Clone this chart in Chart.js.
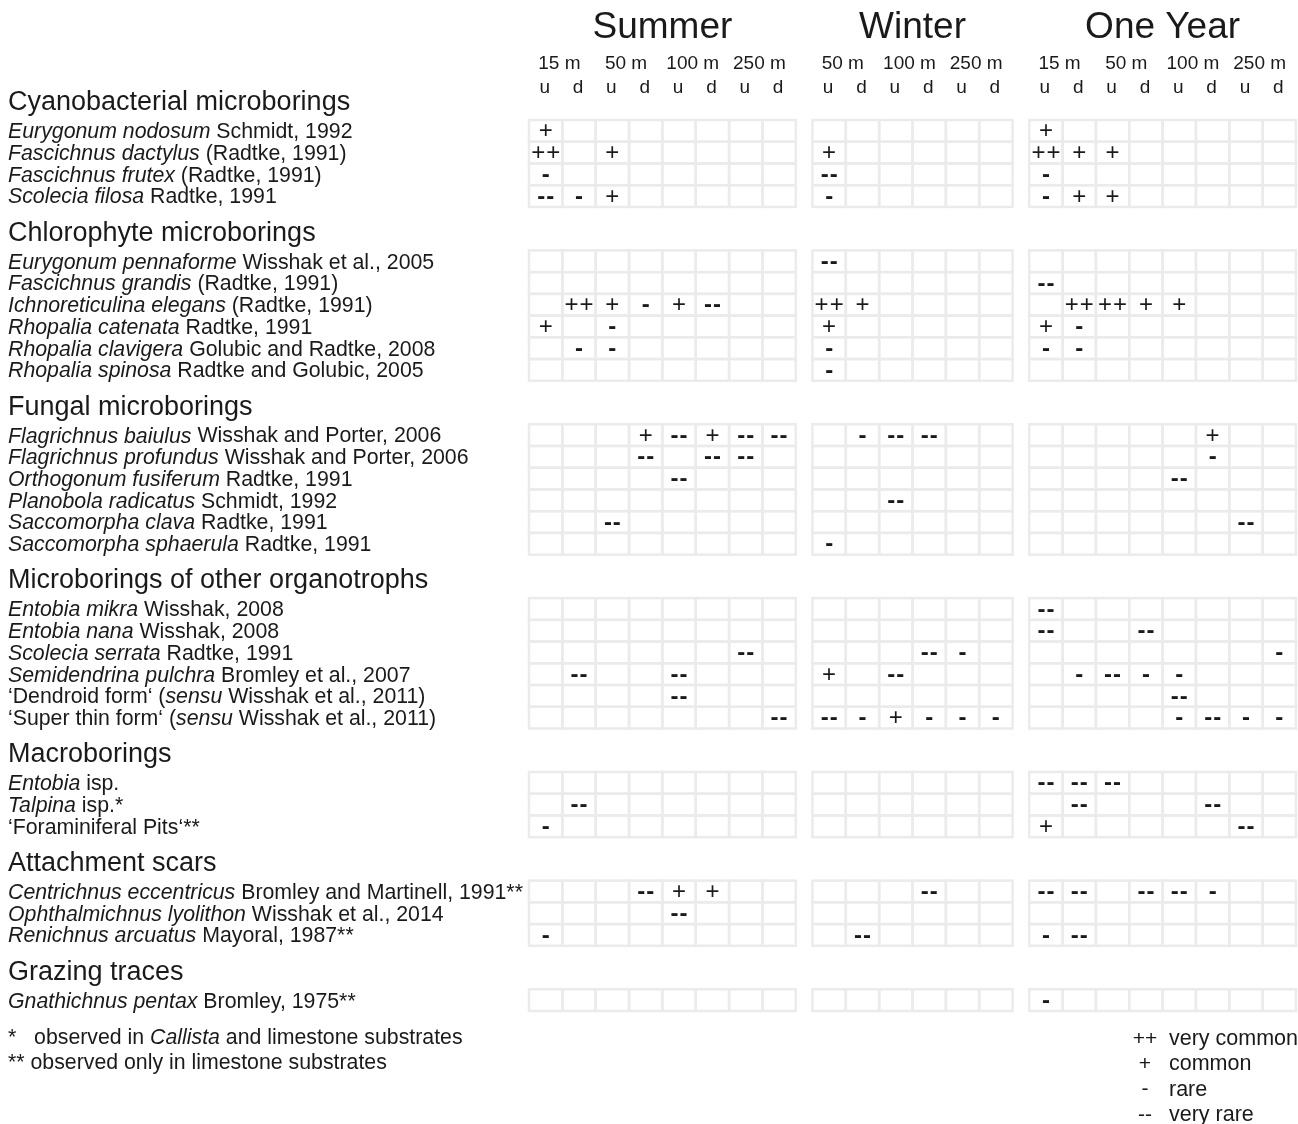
<!DOCTYPE html>
<html>
<head>
<meta charset="utf-8">
<script src="https://cdn.jsdelivr.net/npm/chart.js@4/dist/chart.umd.min.js"></script>
<style>
html,body{margin:0;padding:0;background:#fff;}
#wrap{width:1298px;height:1124px;}
</style>
</head>
<body>
<div id="wrap"><canvas id="c" width="1298" height="1124"></canvas></div>
<script>
// ---------- DATA ----------
const periods = ["Summer", "Winter", "One Year"];
const summerDepths = ["15 m", "50 m", "100 m", "250 m"];
const winterDepths = ["50 m", "100 m", "250 m"];
const yearDepths = ["15 m", "50 m", "100 m", "250 m"];
const sides = ["u", "d"];

const groups = [
  "Cyanobacterial microborings",
  "Chlorophyte microborings",
  "Fungal microborings",
  "Microborings of other organotrophs",
  "Macroborings",
  "Attachment scars",
  "Grazing traces"
];
const groupSizes = [4, 6, 6, 6, 3, 3, 1];

// _text_ = italic
const species = [
  "_Eurygonum nodosum_ Schmidt, 1992",
  "_Fascichnus dactylus_ (Radtke, 1991)",
  "_Fascichnus frutex_ (Radtke, 1991)",
  "_Scolecia filosa_ Radtke, 1991",
  "_Eurygonum pennaforme_ Wisshak et al., 2005",
  "_Fascichnus grandis_ (Radtke, 1991)",
  "_Ichnoreticulina elegans_ (Radtke, 1991)",
  "_Rhopalia catenata_ Radtke, 1991",
  "_Rhopalia clavigera_ Golubic and Radtke, 2008",
  "_Rhopalia spinosa_ Radtke and Golubic, 2005",
  "_Flagrichnus baiulus_ Wisshak and Porter, 2006",
  "_Flagrichnus profundus_ Wisshak and Porter, 2006",
  "_Orthogonum fusiferum_ Radtke, 1991",
  "_Planobola radicatus_ Schmidt, 1992",
  "_Saccomorpha clava_ Radtke, 1991",
  "_Saccomorpha sphaerula_ Radtke, 1991",
  "_Entobia mikra_ Wisshak, 2008",
  "_Entobia nana_ Wisshak, 2008",
  "_Scolecia serrata_ Radtke, 1991",
  "_Semidendrina pulchra_ Bromley et al., 2007",
  "\u2018Dendroid form\u2018 (_sensu_ Wisshak et al., 2011)",
  "\u2018Super thin form\u2018 (_sensu_ Wisshak et al., 2011)",
  "_Entobia_ isp.",
  "_Talpina_ isp.*",
  "\u2018Foraminiferal Pits\u2018**",
  "_Centrichnus eccentricus_ Bromley and Martinell, 1991**",
  "_Ophthalmichnus lyolithon_ Wisshak et al., 2014",
  "_Renichnus arcuatus_ Mayoral, 1987**",
  "_Gnathichnus pentax_ Bromley, 1975**"
];

// abundance codes: 2 = ++ very common, 1 = + common, -1 = - rare, -2 = -- very rare, 0 = absent
const summerData = [
  [1,0,0,0,0,0,0,0],
  [2,0,1,0,0,0,0,0],
  [-1,0,0,0,0,0,0,0],
  [-2,-1,1,0,0,0,0,0],
  [0,0,0,0,0,0,0,0],
  [0,0,0,0,0,0,0,0],
  [0,2,1,-1,1,-2,0,0],
  [1,0,-1,0,0,0,0,0],
  [0,-1,-1,0,0,0,0,0],
  [0,0,0,0,0,0,0,0],
  [0,0,0,1,-2,1,-2,-2],
  [0,0,0,-2,0,-2,-2,0],
  [0,0,0,0,-2,0,0,0],
  [0,0,0,0,0,0,0,0],
  [0,0,-2,0,0,0,0,0],
  [0,0,0,0,0,0,0,0],
  [0,0,0,0,0,0,0,0],
  [0,0,0,0,0,0,0,0],
  [0,0,0,0,0,0,-2,0],
  [0,-2,0,0,-2,0,0,0],
  [0,0,0,0,-2,0,0,0],
  [0,0,0,0,0,0,0,-2],
  [0,0,0,0,0,0,0,0],
  [0,-2,0,0,0,0,0,0],
  [-1,0,0,0,0,0,0,0],
  [0,0,0,-2,1,1,0,0],
  [0,0,0,0,-2,0,0,0],
  [-1,0,0,0,0,0,0,0],
  [0,0,0,0,0,0,0,0]
];
const winterData = [
  [0,0,0,0,0,0],
  [1,0,0,0,0,0],
  [-2,0,0,0,0,0],
  [-1,0,0,0,0,0],
  [-2,0,0,0,0,0],
  [0,0,0,0,0,0],
  [2,1,0,0,0,0],
  [1,0,0,0,0,0],
  [-1,0,0,0,0,0],
  [-1,0,0,0,0,0],
  [0,-1,-2,-2,0,0],
  [0,0,0,0,0,0],
  [0,0,0,0,0,0],
  [0,0,-2,0,0,0],
  [0,0,0,0,0,0],
  [-1,0,0,0,0,0],
  [0,0,0,0,0,0],
  [0,0,0,0,0,0],
  [0,0,0,-2,-1,0],
  [1,0,-2,0,0,0],
  [0,0,0,0,0,0],
  [-2,-1,1,-1,-1,-1],
  [0,0,0,0,0,0],
  [0,0,0,0,0,0],
  [0,0,0,0,0,0],
  [0,0,0,-2,0,0],
  [0,0,0,0,0,0],
  [0,-2,0,0,0,0],
  [0,0,0,0,0,0]
];
const yearData = [
  [1,0,0,0,0,0,0,0],
  [2,1,1,0,0,0,0,0],
  [-1,0,0,0,0,0,0,0],
  [-1,1,1,0,0,0,0,0],
  [0,0,0,0,0,0,0,0],
  [-2,0,0,0,0,0,0,0],
  [0,2,2,1,1,0,0,0],
  [1,-1,0,0,0,0,0,0],
  [-1,-1,0,0,0,0,0,0],
  [0,0,0,0,0,0,0,0],
  [0,0,0,0,0,1,0,0],
  [0,0,0,0,0,-1,0,0],
  [0,0,0,0,-2,0,0,0],
  [0,0,0,0,0,0,0,0],
  [0,0,0,0,0,0,-2,0],
  [0,0,0,0,0,0,0,0],
  [-2,0,0,0,0,0,0,0],
  [-2,0,0,-2,0,0,0,0],
  [0,0,0,0,0,0,0,-1],
  [0,-1,-2,-1,-1,0,0,0],
  [0,0,0,0,-2,0,0,0],
  [0,0,0,0,-1,-2,-1,-1],
  [-2,-2,-2,0,0,0,0,0],
  [0,-2,0,0,0,-2,0,0],
  [1,0,0,0,0,0,-2,0],
  [-2,-2,0,-2,-2,-1,0,0],
  [0,0,0,0,0,0,0,0],
  [-1,-2,0,0,0,0,0,0],
  [-1,0,0,0,0,0,0,0]
];

const symbolCodes = [2, 1, -1, -2];
const symbolTexts = ["++", "+", "-", "--"];
const legendTexts = ["very common", "common", "rare", "very rare"];
const footnotes = ["*   observed in _Callista_ and limestone substrates", "** observed only in limestone substrates"];

// ---------- LAYOUT HELPERS ----------
const sectionData = [summerData, winterData, yearData];
const sectionDepths = [summerDepths, winterDepths, yearDepths];
const sectionCols = [8, 6, 8];
const sectionGap = 0.5;
const sectionStart = [];
{ let s = 0; for (let i = 0; i < sectionCols.length; i++) { sectionStart.push(s); s += sectionCols[i] + sectionGap; } }
const totalCols = sectionStart[2] + sectionCols[2];

// rows: each group after the first is preceded by 2 rows for its heading
const speciesRow = [];
const groupStartRow = [];
{ let r = 0; for (let g = 0; g < groups.length; g++) { if (g > 0) r += 2; groupStartRow.push(r); for (let k = 0; k < groupSizes[g]; k++) { speciesRow.push(r); r++; } } }
const totalRows = speciesRow[speciesRow.length - 1] + 1;

function sym(code) { const i = symbolCodes.indexOf(code); return i >= 0 ? symbolTexts[i] : ""; }

// symbol points
const points = [];
species.forEach((sp, i) => {
  sectionData.forEach((data, s) => {
    data[i].forEach((v, c) => {
      if (v !== 0) points.push({ x: sectionStart[s] + c + 0.5, y: speciesRow[i] + 0.5, s: sym(v) });
    });
  });
});

const FONT = "'Liberation Sans', Arial, Helvetica, sans-serif";

function drawRich(ctx, str, x, y, size) {
  const parts = str.split("_");
  let cx = x;
  parts.forEach((p, i) => {
    if (!p) return;
    ctx.font = (i % 2 === 1 ? "italic " : "") + size + "px " + FONT;
    ctx.fillText(p, cx, y);
    cx += ctx.measureText(p).width;
  });
}

const tablePlugin = {
  id: "table",
  beforeDatasetsDraw(chart) {
    const ctx = chart.ctx, xs = chart.scales.x, ys = chart.scales.y;
    ctx.save();
    ctx.strokeStyle = "#ebebeb";
    ctx.lineWidth = 2.5;
    speciesRow.forEach((r) => {
      const y0 = ys.getPixelForValue(r), y1 = ys.getPixelForValue(r + 1);
      sectionCols.forEach((n, s) => {
        for (let c = 0; c < n; c++) {
          const x0 = xs.getPixelForValue(sectionStart[s] + c), x1 = xs.getPixelForValue(sectionStart[s] + c + 1);
          ctx.strokeRect(x0, y0, x1 - x0, y1 - y0);
        }
      });
    });
    ctx.restore();
  },
  afterDatasetsDraw(chart) {
    const ctx = chart.ctx, xs = chart.scales.x, ys = chart.scales.y;
    ctx.save();
    ctx.fillStyle = "#1a1a1a";
    ctx.textBaseline = "middle";
    // symbols
    const meta = chart.getDatasetMeta(0);
    ctx.textAlign = "center";
    ctx.letterSpacing = "1px";
    meta.data.forEach((el, i) => {
      const t = points[i].s;
      ctx.font = (t.indexOf("-") >= 0 ? "bold " : "") + "24px " + FONT;
      ctx.fillText(t, el.x + 0.5, el.y + 1);
    });
    ctx.letterSpacing = "0px";
    // period titles, depths, sides
    sectionCols.forEach((n, s) => {
      const cx = (xs.getPixelForValue(sectionStart[s]) + xs.getPixelForValue(sectionStart[s] + n)) / 2;
      ctx.font = "37px " + FONT;
      ctx.fillText(periods[s], cx, ys.getPixelForValue(-4.24));
      sectionDepths[s].forEach((d, k) => {
        const px = xs.getPixelForValue(sectionStart[s] + 2 * k + 1) - 3;
        ctx.font = "19px " + FONT;
        ctx.fillText(d, px, ys.getPixelForValue(-2.6));
        sides.forEach((sd, j) => {
          ctx.fillText(sd, xs.getPixelForValue(sectionStart[s] + 2 * k + j + 0.5) - 1, ys.getPixelForValue(-1.48));
        });
      });
    });
    // group headings and species labels
    ctx.textAlign = "left";
    groups.forEach((g, k) => {
      ctx.font = "27px " + FONT;
      ctx.fillText(g, 8, ys.getPixelForValue(groupStartRow[k] - 0.79));
    });
    species.forEach((sp, i) => {
      drawRich(ctx, sp, 8, ys.getPixelForValue(speciesRow[i] + 0.5) + 1.5, 21.3);
    });
    // footnotes
    footnotes.forEach((f, i) => {
      drawRich(ctx, f, 8, ys.getPixelForValue(totalRows + 1.25 + i * 1.15), 21.3);
    });
    // legend
    symbolTexts.forEach((t, i) => {
      const y = ys.getPixelForValue(totalRows + 1.28 + i * 1.17);
      ctx.textAlign = "center";
      ctx.font = "21px " + FONT;
      ctx.fillText(t, 1145, y);
      ctx.textAlign = "left";
      ctx.font = "21.5px " + FONT;
      ctx.fillText(legendTexts[i], 1169, y);
    });
    ctx.restore();
  }
};

new Chart(document.getElementById("c"), {
  type: "scatter",
  data: { datasets: [{ data: points, pointRadius: 0, pointHoverRadius: 0, showLine: false }] },
  options: {
    responsive: false,
    animation: false,
    devicePixelRatio: 1,
    layout: { padding: { left: 529, right: 2, top: 120, bottom: 113 } },
    scales: {
      x: { type: "linear", min: 0, max: totalCols, display: false },
      y: { type: "linear", min: 0, max: totalRows, reverse: true, display: false }
    },
    plugins: { legend: { display: false }, tooltip: { enabled: false } }
  },
  plugins: [tablePlugin]
});
</script>
</body>
</html>
